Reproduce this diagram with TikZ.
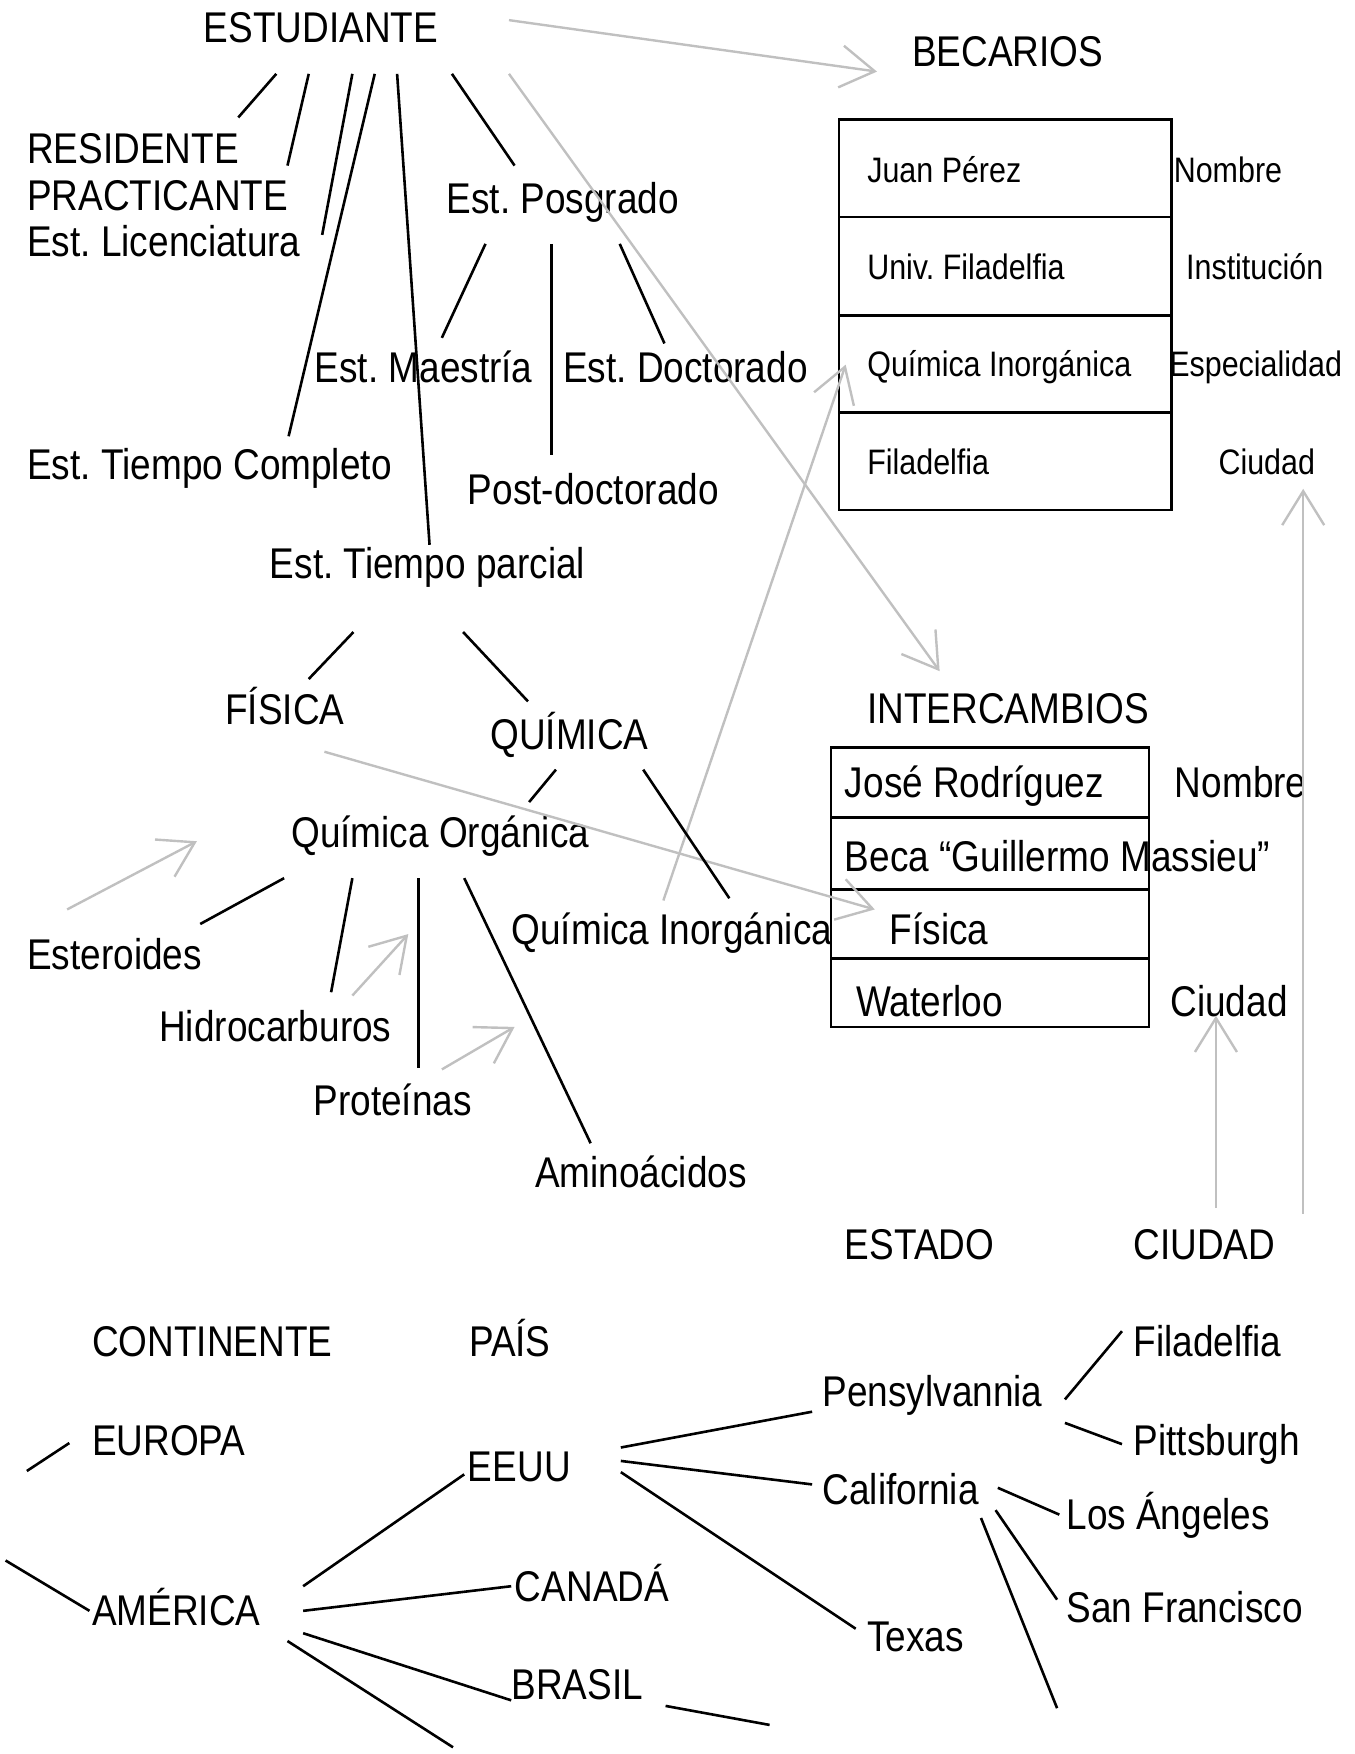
\documentclass[tikz,border=0pt]{standalone}
\usepackage{fontspec}
\setmainfont{Liberation Sans}[FakeStretch=0.86]
\usetikzlibrary{arrows.meta}
\definecolor{arrgray}{RGB}{192,192,192}
\newcommand\fbig{\fontsize{21.5}{25}\selectfont}
\newcommand\fsml{\fontsize{17.7}{21}\selectfont}
\frenchspacing
\begin{document}
\begin{tikzpicture}[x=0.5594pt,y=-0.5594pt,
  lbl/.style={anchor=base west,inner sep=0pt,font=\fbig},
  slbl/.style={anchor=base west,inner sep=0pt,font=\fsml},
  link/.style={draw=black,line width=1.3pt},
  garr/.style={draw=arrgray,line width=1.2pt,-{Straight Barb[length=17pt,width=21pt]}},
  tbl/.style={draw=black,line width=1.3pt}]
\useasboundingbox (0,0) rectangle (1211,1568);

% ---------- text nodes ----------
\node[lbl] (est) at (182,38) {ESTUDIANTE};
\node[lbl] (bec) at (815,59) {BECARIOS};
\node[lbl] (res) at (24,146) {RESIDENTE};
\node[lbl] (pra) at (24,188) {PRACTICANTE};
\node[lbl] (lic) at (24,229) {Est. Licenciatura};
\node[lbl] (pos) at (399,191) {Est. Posgrado};
\node[lbl] (mae) at (281,342) {Est. Maestría};
\node[lbl] (doc) at (503,342) {Est. Doctorado};
\node[lbl] (tc) at (24,429) {Est. Tiempo Completo};
\node[lbl] (pd) at (418,451) {Post-doctorado};
\node[lbl] (tp) at (241,517) {Est. Tiempo parcial};
\node[lbl] (fis) at (201,648) {FÍSICA};
\node[lbl] (qui) at (438,670) {QUÍMICA};
\node[lbl] (qo) at (260,758) {Química Orgánica};
\node[lbl] (qi) at (457,844) {Química Inorgánica};
\node[lbl] (ste) at (24,867) {Esteroides};
\node[lbl] (hid) at (142,931) {Hidrocarburos};
\node[lbl] (pro) at (280,997) {Proteínas};
\node[lbl] (ami) at (478,1062) {Aminoácidos};
\node[lbl] (inter) at (775,647) {INTERCAMBIOS};

% BECARIOS table
\draw[tbl] (750,107) rectangle (1047,456);
\draw[tbl] (750,194) -- (1047,194);
\draw[tbl] (750,282) -- (1047,282);
\draw[tbl] (750,369) -- (1047,369);
\node[slbl] (b1) at (775,163) {Juan Pérez};
\node[slbl] (b2) at (775,250) {Univ. Filadelfia};
\node[slbl] (b3) at (775,337) {Química Inorgánica};
\node[slbl] (b4) at (775,424) {Filadelfia};
\node[slbl] (bl1) at (1049,163) {Nombre};
\node[slbl] (bl2) at (1060,250) {Institución};
\node[slbl] (bl3) at (1045,337) {Especialidad};
\node[slbl] (bl4) at (1089,424) {Ciudad};

% INTERCAMBIOS table
\draw[tbl] (743,668) rectangle (1027,918);
\draw[tbl] (743,731) -- (1027,731);
\draw[tbl] (743,795) -- (1027,795);
\draw[tbl] (743,857) -- (1027,857);
\node[lbl] (i1) at (755,713) {José Rodríguez};
\node[lbl] (i2) at (755,779) {Beca “Guillermo Massieu”};
\node[lbl] (i3) at (795,844) {Física};
\node[lbl] (i4) at (765,909) {Waterloo};
\node[lbl] (il1) at (1050,713) {Nombre};
\node[lbl] (il4) at (1046,909) {Ciudad};

% bottom texts
\node[lbl] (estado) at (755,1126) {ESTADO};
\node[lbl] (ciudad) at (1013,1126) {CIUDAD};
\node[lbl] (cont) at (82,1213) {CONTINENTE};
\node[lbl] (pais) at (419,1213) {PAÍS};
\node[lbl] (eur) at (82,1301) {EUROPA};
\node[lbl] (ame) at (82,1453) {AMÉRICA};
\node[lbl] (eeuu) at (418,1324) {EEUU};
\node[lbl] (can) at (460,1432) {CANADÁ};
\node[lbl] (bra) at (457,1519) {BRASIL};
\node[lbl] (pen) at (735,1257) {Pensylvannia};
\node[lbl] (cal) at (735,1345) {California};
\node[lbl] (tex) at (775,1476) {Texas};
\node[lbl] (fil) at (1013,1213) {Filadelfia};
\node[lbl] (pit) at (1013,1301) {Pittsburgh};
\node[lbl] (la) at (953,1367) {Los Ángeles};
\node[lbl] (sf) at (953,1450) {San Francisco};

% ---------- connector end points ----------
\coordinate (estA) at (247,66);  \coordinate (resA) at (213,105);
\coordinate (estB) at (276,66);  \coordinate (praA) at (257,148);
\coordinate (estC) at (315,66);  \coordinate (licA) at (288,210);
\coordinate (estD) at (335,66);  \coordinate (tcA)  at (258,390);
\coordinate (estE) at (355,66);  \coordinate (tpA)  at (384,487);
\coordinate (estF) at (404,66);  \coordinate (posA) at (460,148);
\coordinate (posB) at (434,218); \coordinate (maeA) at (395,302);
\coordinate (posC) at (493,218); \coordinate (pdA)  at (493,407);
\coordinate (posD) at (554,218); \coordinate (docA) at (594,307);
\coordinate (tpB) at (316,565);  \coordinate (fisA) at (276,607);
\coordinate (tpC) at (414,565);  \coordinate (quiA) at (472,627);
\coordinate (quiB) at (497,688); \coordinate (qoA)  at (473,717);
\coordinate (quiC) at (575,688); \coordinate (qiA)  at (652,803);
\coordinate (qoB) at (254,785);  \coordinate (steA) at (179,826);
\coordinate (qoC) at (315,785);  \coordinate (hidA) at (296,887);
\coordinate (qoD) at (374,785);  \coordinate (proA) at (374,955);
\coordinate (qoE) at (415,785);  \coordinate (amiA) at (528,1022);

\coordinate (eurL) at (24,1315);  \coordinate (eurA) at (62,1290);
\coordinate (ameL) at (5,1395);   \coordinate (ameA) at (80,1440);
\coordinate (ameB) at (271,1418); \coordinate (eeuuA) at (415,1318);
\coordinate (ameC) at (271,1440); \coordinate (canA) at (457,1418);
\coordinate (ameD) at (271,1460); \coordinate (braA) at (457,1520);
\coordinate (ameE) at (257,1467); \coordinate (ameEnd) at (405,1562);
\coordinate (braB) at (595,1525); \coordinate (braEnd) at (688,1542);
\coordinate (eeuuB) at (555,1294); \coordinate (penA) at (726,1262);
\coordinate (eeuuC) at (555,1306); \coordinate (calA) at (726,1327);
\coordinate (eeuuD) at (555,1316); \coordinate (texA) at (765,1456);
\coordinate (penB) at (952,1251); \coordinate (filA) at (1003,1190);
\coordinate (penC) at (952,1272); \coordinate (pitA) at (1003,1291);
\coordinate (calB) at (892,1330); \coordinate (laA) at (947,1354);
\coordinate (calC) at (890,1350); \coordinate (sfA) at (945,1430);
\coordinate (calD) at (877,1357); \coordinate (calEnd) at (945,1527);

% gray arrow points
\coordinate (g1s) at (455,18);   \coordinate (g1e) at (784,64);
\coordinate (g2s) at (455,66);   \coordinate (g2e) at (840,600);
\coordinate (g3s) at (290,672);  \coordinate (g3e) at (782,813);
\coordinate (g4s) at (593,805);  \coordinate (g4e) at (756,326);
\coordinate (g5s) at (60,813);   \coordinate (g5e) at (176,752);
\coordinate (g6s) at (315,890);  \coordinate (g6e) at (365,835);
\coordinate (g7s) at (395,956);  \coordinate (g7e) at (460,918);
\coordinate (g8s) at (1087,1080); \coordinate (g8e) at (1087,908);
\coordinate (g9s) at (1165,1085); \coordinate (g9e) at (1165,437);

% ---------- gray arrows ----------
\draw[garr] (g1s) -- (g1e);
\draw[garr] (g2s) -- (g2e);
\draw[garr] (g3s) -- (g3e);
\draw[garr] (g4s) -- (g4e);
\draw[garr] (g5s) -- (g5e);
\draw[garr] (g6s) -- (g6e);
\draw[garr] (g7s) -- (g7e);
\draw[garr] (g8s) -- (g8e);
\draw[garr] (g9s) -- (g9e);

% ---------- black connectors ----------
\draw[link] (estA) -- (resA);
\draw[link] (estB) -- (praA);
\draw[link] (estC) -- (licA);
\draw[link] (estD) -- (tcA);
\draw[link] (estE) -- (tpA);
\draw[link] (estF) -- (posA);
\draw[link] (posB) -- (maeA);
\draw[link] (posC) -- (pdA);
\draw[link] (posD) -- (docA);
\draw[link] (tpB) -- (fisA);
\draw[link] (tpC) -- (quiA);
\draw[link] (quiB) -- (qoA);
\draw[link] (quiC) -- (qiA);
\draw[link] (qoB) -- (steA);
\draw[link] (qoC) -- (hidA);
\draw[link] (qoD) -- (proA);
\draw[link] (qoE) -- (amiA);

\draw[link] (eurL) -- (eurA);
\draw[link] (ameL) -- (ameA);
\draw[link] (ameB) -- (eeuuA);
\draw[link] (ameC) -- (canA);
\draw[link] (ameD) -- (braA);
\draw[link] (ameE) -- (ameEnd);
\draw[link] (braB) -- (braEnd);
\draw[link] (eeuuB) -- (penA);
\draw[link] (eeuuC) -- (calA);
\draw[link] (eeuuD) -- (texA);
\draw[link] (penB) -- (filA);
\draw[link] (penC) -- (pitA);
\draw[link] (calB) -- (laA);
\draw[link] (calC) -- (sfA);
\draw[link] (calD) -- (calEnd);
\end{tikzpicture}
\end{document}
